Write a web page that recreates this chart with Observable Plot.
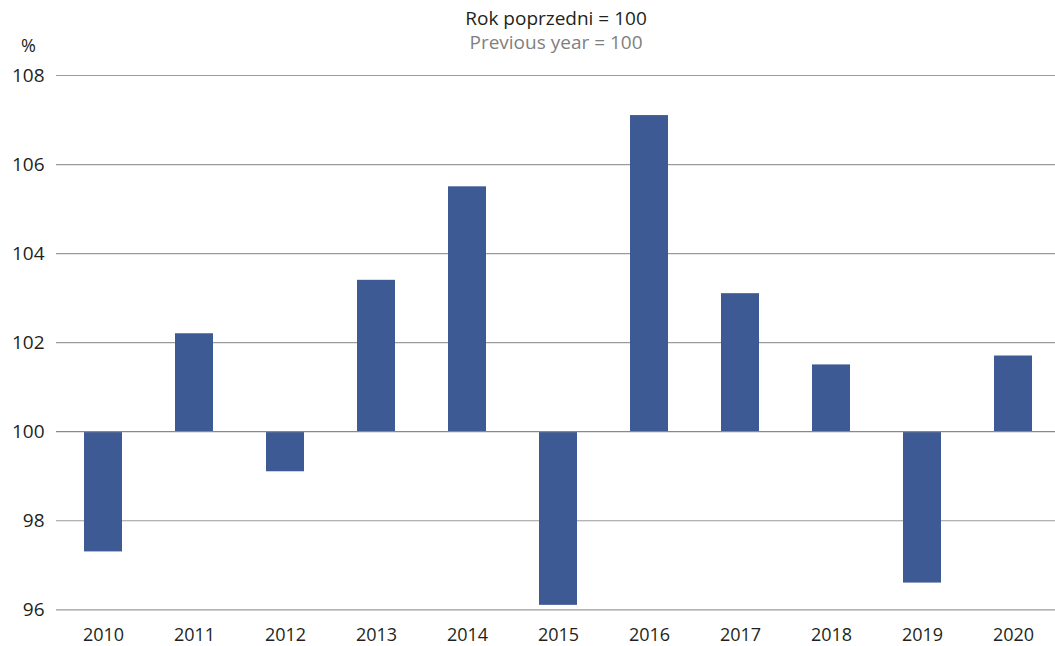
<!DOCTYPE html>
<html>
<head>
<meta charset="utf-8">
<script src="https://cdn.jsdelivr.net/npm/d3@7"></script>
<script src="https://cdn.jsdelivr.net/npm/@observablehq/plot@0.6"></script>
<style>
  html, body { margin: 0; padding: 0; background: #fff; overflow: hidden; }
  #wrap { position: relative; width: 1055px; height: 646px; font-family: "Open Sans", sans-serif; }
  .t1 { position: absolute; left: 0; width: 1112px; top: 4.5px; text-align: center; font-size: 19px; color: #231f20; white-space: nowrap; }
  .t2 { position: absolute; left: 0; width: 1112px; top: 28.5px; text-align: center; font-size: 19px; color: #7f7f7f; white-space: nowrap; }
  .unit { position: absolute; left: 21px; top: 32.5px; font-size: 18px; color: #231f20; }
  svg { position: absolute; left: 0; top: 0; }
</style>
</head>
<body>
<div id="wrap">
  <div class="t1">Rok poprzedni = 100</div>
  <div class="t2">Previous year = 100</div>
  <div class="unit">%</div>
</div>
<script>
const years = ["2010","2011","2012","2013","2014","2015","2016","2017","2018","2019","2020"];
const values = [97.3, 102.2, 99.1, 103.4, 105.5, 96.1, 107.1, 103.1, 101.5, 96.6, 101.7];
const yTicks = [96, 98, 100, 102, 104, 106, 108];
const baseline = 100;

const data = years.map((y, i) => ({year: y, value: values[i]}));

const chart = Plot.plot({
  width: 1055,
  height: 646,
  marginTop: 75,
  marginBottom: 36.7,
  marginLeft: 56,
  marginRight: 0,
  style: { fontFamily: "Open Sans, sans-serif", fontSize: "19px", color: "#231f20", background: "transparent" },
  x: { domain: years, range: [56.4, 1059.6], paddingInner: 0.585, paddingOuter: 0.2925, label: null },
  y: { domain: [96, 108], ticks: yTicks, label: null },
  marks: [
    Plot.ruleY(yTicks.filter(t => t !== baseline), { stroke: "#9a9a9a", strokeWidth: 1.2 }),
    Plot.barY(data, { x: "year", y1: baseline, y2: "value", fill: "#3e5a94" }),
    Plot.ruleY([baseline], { stroke: "#8a8a8a", strokeWidth: 1.3 }),
    Plot.axisY({ ticks: yTicks, tickSize: 0, tickPadding: 12, tickFormat: d => String(d), label: null }),
    Plot.axisX({ tickSize: 0, tickPadding: 18.5, fontSize: 18, label: null })
  ]
});
document.getElementById("wrap").appendChild(chart);
</script>
</body>
</html>
